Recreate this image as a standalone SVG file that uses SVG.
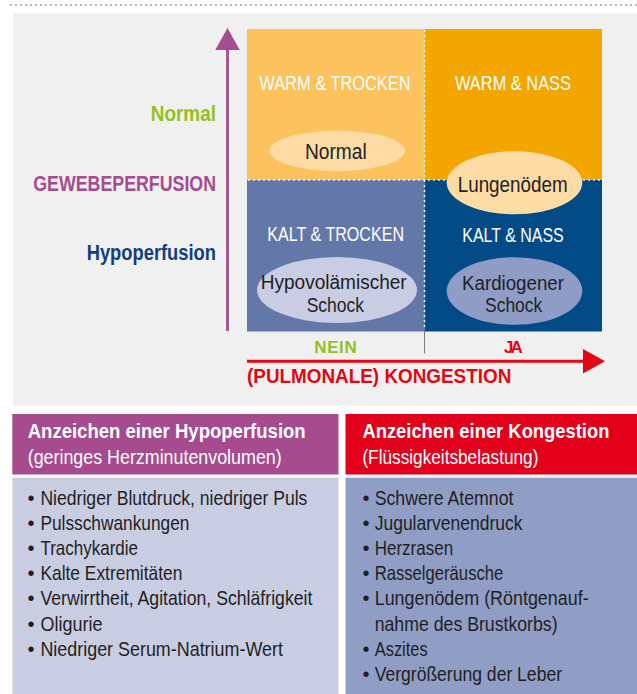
<svg xmlns="http://www.w3.org/2000/svg" width="637" height="694" viewBox="0 0 637 694">
<style>
text{font-family:"Liberation Sans",Arial,sans-serif;}
.b{font-weight:bold;}
.qh{font-size:20.5px;fill:#ffffff;}
.el{font-size:21.5px;fill:#1f1f1f;}
.el2{font-size:20px;fill:#1f1f1f;}
.lab{font-size:22px;font-weight:bold;}
.hd{font-size:20.5px;fill:#ffffff;}
.li{font-size:21px;fill:#1f1f1f;}
.bu{font-size:20px;fill:#1f1f1f;text-anchor:middle;}
.dots{fill:none;stroke-width:1.8;stroke-dasharray:0 5;stroke-linecap:round;}
</style>
<defs>
<marker id="arrP" markerUnits="userSpaceOnUse" markerWidth="23" markerHeight="25" refX="0" refY="12.3" orient="auto"><path d="M0,0 L22,12.3 L0,24.6 Z" fill="#a54d8f"/></marker>
<marker id="arrR" markerUnits="userSpaceOnUse" markerWidth="23" markerHeight="25" refX="0" refY="12.3" orient="auto"><path d="M0,0 L22,12.3 L0,24.6 Z" fill="#e30613"/></marker>
</defs>
<rect width="637" height="694" fill="#ffffff"/>
<line x1="11" y1="5" x2="637" y2="5" class="dots" stroke="#9a9a9a"/>
<rect x="13" y="13.5" width="624" height="392.5" fill="#f0f0f0"/>

<g id="quadrants">
<rect x="247" y="29" width="177.5" height="151" fill="#fbc25e"/>
<rect x="424.5" y="29" width="177.5" height="151" fill="#f4a600"/>
<rect x="247" y="180" width="177.5" height="151.5" fill="#6378a8"/>
<rect x="424.5" y="180" width="177.5" height="151.5" fill="#034b87"/>
<line x1="249" y1="180" x2="602" y2="180" class="dots" stroke="#ffffff"/>
<line x1="424.5" y1="31" x2="424.5" y2="331" class="dots" stroke="#ffffff"/>
</g>

<g id="warm-trocken">
<text class="qh" x="259.3" y="90" textLength="151.3" lengthAdjust="spacingAndGlyphs">WARM &amp; TROCKEN</text>
</g>
<g id="warm-nass">
<text class="qh" x="455" y="90" textLength="116" lengthAdjust="spacingAndGlyphs">WARM &amp; NASS</text>
</g>
<g id="kalt-trocken">
<text class="qh" x="267.3" y="241" textLength="136.7" lengthAdjust="spacingAndGlyphs">KALT &amp; TROCKEN</text>
</g>
<g id="kalt-nass">
<text class="qh" x="462.3" y="241.5" textLength="101.4" lengthAdjust="spacingAndGlyphs">KALT &amp; NASS</text>
</g>

<g id="normal">
<ellipse cx="337.2" cy="150.8" rx="67.8" ry="20.2" fill="#fcdca4"/>
<text class="el" x="305" y="158.5" textLength="61.7" lengthAdjust="spacingAndGlyphs">Normal</text>
</g>
<g id="lungenoedem">
<ellipse cx="514.5" cy="182.8" rx="67.8" ry="31.5" fill="#fcdca4"/>
<text class="el" x="457.7" y="191.7" textLength="110" lengthAdjust="spacingAndGlyphs">Lungenödem</text>
</g>
<g id="hypovolaemischer-schock">
<ellipse cx="337" cy="290" rx="80" ry="33" fill="#c8cde3"/>
<text class="el2" x="260.7" y="289.3" textLength="146" lengthAdjust="spacingAndGlyphs">Hypovolämischer</text>
<text class="el2" x="306.7" y="312" textLength="57.3" lengthAdjust="spacingAndGlyphs">Schock</text>
</g>
<g id="kardiogener-schock">
<ellipse cx="514.5" cy="291" rx="67.8" ry="33.8" fill="#8f9dc6"/>
<text class="el2" x="462" y="289.5" textLength="102" lengthAdjust="spacingAndGlyphs">Kardiogener</text>
<text class="el2" x="485" y="312.2" textLength="57.3" lengthAdjust="spacingAndGlyphs">Schock</text>
</g>

<g id="y-axis-labels">
<text class="lab" x="150.7" y="121" fill="#95c11f" textLength="65.3" lengthAdjust="spacingAndGlyphs">Normal</text>
<text class="lab" x="33.3" y="190.5" fill="#a54d8f" textLength="182.7" lengthAdjust="spacingAndGlyphs">GEWEBEPERFUSION</text>
<text class="lab" x="86.7" y="260" fill="#0f3f7f" textLength="129.3" lengthAdjust="spacingAndGlyphs">Hypoperfusion</text>
</g>

<g id="x-axis-labels">
<text class="b" x="314.3" y="352.7" font-size="17" fill="#95c11f" textLength="42.4" lengthAdjust="spacing">NEIN</text>
<text class="b" x="504" y="352.7" font-size="17" fill="#e30613" textLength="18.7" lengthAdjust="spacing">JA</text>
<text class="b" x="247" y="383.3" font-size="20.5" fill="#e30613" textLength="264.3" lengthAdjust="spacingAndGlyphs">(PULMONALE) KONGESTION</text>
</g>

<g id="connectors">
<line x1="227.5" y1="331" x2="227.5" y2="50" stroke="#a54d8f" stroke-width="2.8" marker-end="url(#arrP)"/>
<line x1="247" y1="361.3" x2="583" y2="361.3" stroke="#e30613" stroke-width="3" marker-end="url(#arrR)"/>
<line x1="424.5" y1="331" x2="424.5" y2="353.5" stroke="#7a7a7a" stroke-width="1"/>
</g>

<g id="hypoperfusion-box">
<rect x="12.3" y="414" width="326.2" height="60.5" fill="#a54b8e"/>
<rect x="12.3" y="477.7" width="326.2" height="216.3" fill="#c8cde2"/>
<text class="hd b" x="27.7" y="438.3" textLength="278" lengthAdjust="spacingAndGlyphs">Anzeichen einer Hypoperfusion</text>
<text class="hd" x="27.7" y="464" font-size="20" textLength="254" lengthAdjust="spacingAndGlyphs">(geringes Herzminutenvolumen)</text>
<text class="bu" x="31" y="504.5">•</text><text class="li" x="40.4" y="504.5" textLength="267" lengthAdjust="spacingAndGlyphs">Niedriger Blutdruck, niedriger Puls</text>
<text class="bu" x="31" y="529.7">•</text><text class="li" x="40.4" y="529.7" textLength="149" lengthAdjust="spacingAndGlyphs">Pulsschwankungen</text>
<text class="bu" x="31" y="554.9">•</text><text class="li" x="40.4" y="554.9" textLength="97.6" lengthAdjust="spacingAndGlyphs">Trachykardie</text>
<text class="bu" x="31" y="580.1">•</text><text class="li" x="40.4" y="580.1" textLength="142" lengthAdjust="spacingAndGlyphs">Kalte Extremitäten</text>
<text class="bu" x="31" y="605.3">•</text><text class="li" x="40.4" y="605.3" textLength="272" lengthAdjust="spacingAndGlyphs">Verwirrtheit, Agitation, Schläfrigkeit</text>
<text class="bu" x="31" y="630.5">•</text><text class="li" x="40.4" y="630.5" textLength="62" lengthAdjust="spacingAndGlyphs">Oligurie</text>
<text class="bu" x="31" y="655.7">•</text><text class="li" x="40.4" y="655.7" textLength="242.5" lengthAdjust="spacingAndGlyphs">Niedriger Serum-Natrium-Wert</text>
</g>

<g id="kongestion-box">
<rect x="345.5" y="414" width="291.5" height="60.5" fill="#e2001a"/>
<rect x="345.5" y="477.7" width="291.5" height="216.3" fill="#909ec6"/>
<text class="hd b" x="362.4" y="438.3" textLength="247" lengthAdjust="spacingAndGlyphs">Anzeichen einer Kongestion</text>
<text class="hd" x="362.4" y="464" font-size="20" textLength="176" lengthAdjust="spacingAndGlyphs">(Flüssigkeitsbelastung)</text>
<text class="bu" x="366" y="504.5">•</text><text class="li" x="374.7" y="504.5" textLength="138.8" lengthAdjust="spacingAndGlyphs">Schwere Atemnot</text>
<text class="bu" x="366" y="529.7">•</text><text class="li" x="374.7" y="529.7" textLength="147.8" lengthAdjust="spacingAndGlyphs">Jugularvenendruck</text>
<text class="bu" x="366" y="554.9">•</text><text class="li" x="374.7" y="554.9" textLength="78.4" lengthAdjust="spacingAndGlyphs">Herzrasen</text>
<text class="bu" x="366" y="580.1">•</text><text class="li" x="374.7" y="580.1" textLength="128.6" lengthAdjust="spacingAndGlyphs">Rasselgeräusche</text>
<text class="bu" x="366" y="605.3">•</text><text class="li" x="374.7" y="605.3" textLength="213.9" lengthAdjust="spacingAndGlyphs">Lungenödem (Röntgenauf-</text>
<text class="li" x="374.7" y="630.5" textLength="182.9" lengthAdjust="spacingAndGlyphs">nahme des Brustkorbs)</text>
<text class="bu" x="366" y="655.7">•</text><text class="li" x="374.7" y="655.7" textLength="53" lengthAdjust="spacingAndGlyphs">Aszites</text>
<text class="bu" x="366" y="680.9">•</text><text class="li" x="374.7" y="680.9" textLength="187.3" lengthAdjust="spacingAndGlyphs">Vergrößerung der Leber</text>
</g>
</svg>
